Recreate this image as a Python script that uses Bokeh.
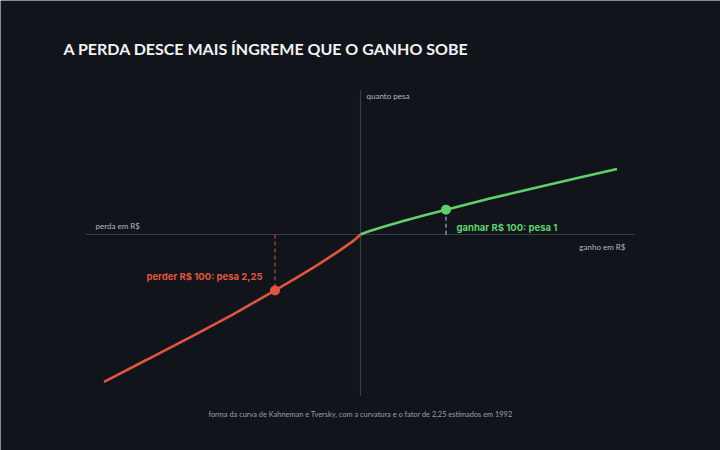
from bokeh.plotting import figure
from bokeh.models import Range1d, Label
from bokeh.embed import file_html
from bokeh.resources import INLINE

# values (R$ -> subjective weight)
gain_x = [0, 5, 10, 25, 50, 75, 100, 150, 200, 250, 300]
gain_v = [0, 4.1, 7.6, 16.9, 31.2, 44.6, 57.5, 82.6, 106.0, 128.9, 151.6]
loss_x = [0, -5, -10, -25, -50, -75, -100, -150, -200, -250, -300]
loss_v = [0, -9.3, -17.1, -38.0, -70.2, -100.4, -129.5, -185.9, -238.6, -290.0, -341.1]
mark_gain = (100, 57.5)
mark_loss = (-100, -129.5)
axis_x = (-321, 321)
axis_y = (-374, 334)

title = "A PERDA DESCE MAIS ÍNGREME QUE O GANHO SOBE"
lbl_gain = "ganhar R$ 100: pesa 1"
lbl_loss = "perder R$ 100: pesa 2,25"
foot = "forma da curva de Kahneman e Tversky, com a curvatura e o fator de 2,25 estimados em 1992"

BG = "#11151b"
GREEN = "#5fd06c"
RED = "#e0553e"
AXIS = "#363b44"
GREY = "#b3b7bd"

W, H = 720, 450
sx = 0.855
sy = 0.432
x0p, y0p = 360, 234  # origin in pixels from the top-left
p = figure(width=W, height=H, output_backend="svg", toolbar_location=None,
           x_range=Range1d(-x0p / sx, (W - x0p) / sx),
           y_range=Range1d(-(H - y0p) / sy, y0p / sy),
           min_border=0, background_fill_color=BG, border_fill_color=BG)
p.axis.visible = False
p.grid.visible = False
p.outline_line_color = None

p.segment(x0=[axis_x[0]], y0=[0], x1=[axis_x[1]], y1=[0], line_color=AXIS, line_width=1.2)
p.segment(x0=[0], y0=[axis_y[0]], x1=[0], y1=[axis_y[1]], line_color=AXIS, line_width=1.2)

p.segment(x0=[mark_gain[0]], y0=[mark_gain[1]], x1=[mark_gain[0]], y1=[-2],
          line_color="#c8cbd0", line_width=1, line_dash="4 3")
p.segment(x0=[mark_loss[0]], y0=[0], x1=[mark_loss[0]], y1=[mark_loss[1]],
          line_color=RED, line_width=1, line_dash="4 3")

p.line(gain_x, gain_v, line_color=GREEN, line_width=2.6)
p.line(loss_x, loss_v, line_color=RED, line_width=2.6)
p.scatter([mark_gain[0]], [mark_gain[1]], size=10, fill_color=GREEN, line_color=None)
p.scatter([mark_loss[0]], [mark_loss[1]], size=10, fill_color=RED, line_color=None)

def lab(x, y, t, size, color, align="left", base="middle", font="Lato", style="normal"):
    p.add_layout(Label(x=x, y=H - y, x_units="screen", y_units="screen", text=t,
                       text_font_size=size, text_color=color, text_align=align,
                       text_baseline=base, text_font=font, text_font_style=style))

lab(63, 48, title, "16px", "#f2f2f2", font="Lato", style="bold")
lab(366, 95, "quanto pesa", "8px", GREY)
lab(95, 225, "perda em R$", "8px", GREY)
lab(625, 246, "ganho em R$", "8px", GREY, align="right")
lab(456, 227, lbl_gain, "9.5px", GREEN, font="Inter", style="bold")
lab(262, 276, lbl_loss, "9.5px", RED, align="right", font="Inter", style="bold")
lab(360, 414, foot, "7.4px", "#9a9ea5", align="center")

open("out.html", "w").write(file_html(p, INLINE))
